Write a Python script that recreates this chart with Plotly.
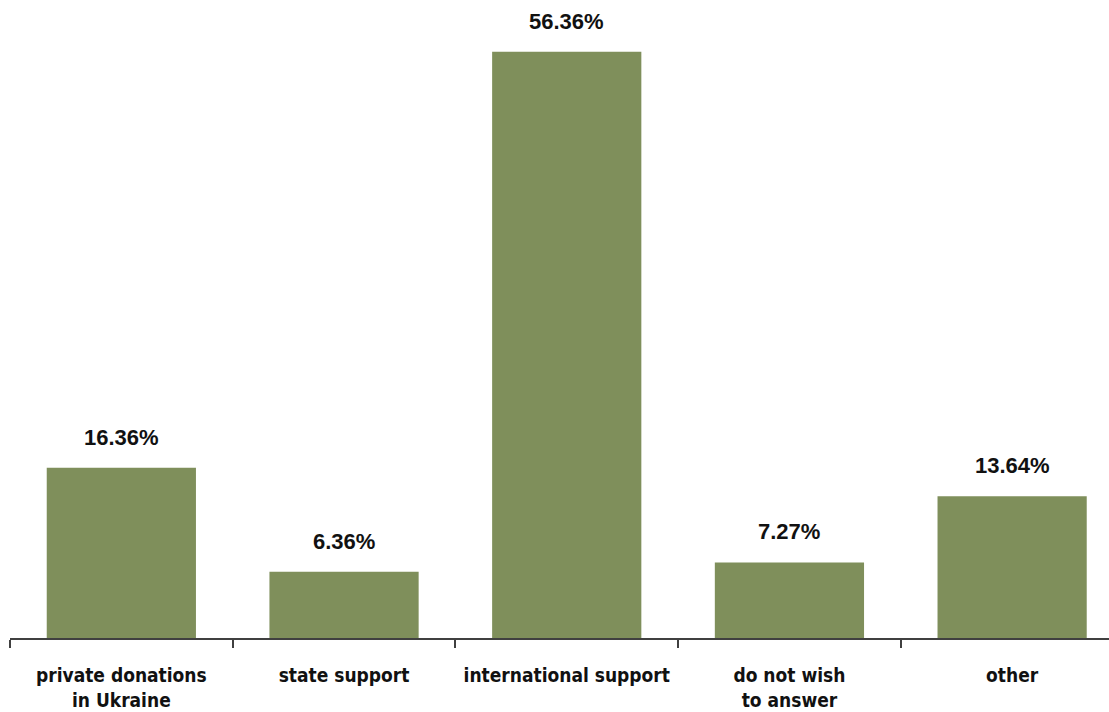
import plotly.graph_objects as go

categories = ["private donations<br>in Ukraine", "state support", "international support",
              "do not wish<br>to answer", "other"]
values = [16.36, 6.36, 56.36, 7.27, 13.64]
value_labels = ["16.36%", "6.36%", "56.36%", "7.27%", "13.64%"]

bar_color = "#7F8F5B"
axis_color = "#404040"
label_font = "DejaVu Sans Condensed, Roboto, sans-serif"

fig = go.Figure()
fig.add_trace(go.Bar(
    x=categories,
    y=values,
    marker=dict(color=bar_color, line=dict(width=0)),
    width=0.67,
    hoverinfo="skip",
))

for cat, val, lab in zip(categories, values, value_labels):
    fig.add_annotation(
        x=cat, y=val, text=lab, showarrow=False,
        yanchor="bottom", yshift=16,
        font=dict(family="Liberation Sans", size=22, color="#111111", weight="bold"),
    )

fig.update_layout(
    width=1109, height=712,
    margin=dict(l=10, r=0, t=14, b=74),
    paper_bgcolor="white", plot_bgcolor="white",
    showlegend=False,
)
fig.update_xaxes(
    type="category",
    range=[-0.5, 4.435],
    showline=True, linecolor=axis_color, linewidth=2,
    ticks="outside", tickson="boundaries", ticklen=8, tickwidth=2, tickcolor=axis_color,
    ticklabelstandoff=19,
    tickfont=dict(family=label_font, size=19, color="#111111", weight="bold"),
    showgrid=False,
)
fig.update_yaxes(
    range=[0, 60], visible=False, showgrid=False, zeroline=False,
)

fig.write_html("out.html")
